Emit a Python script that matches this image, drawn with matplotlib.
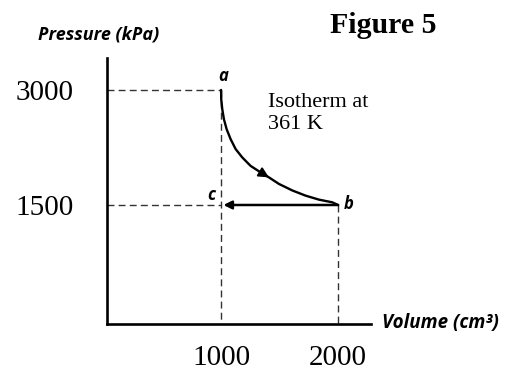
import matplotlib.pyplot as plt

## Data ##

# state points (Volume cm3, Pressure kPa)
point_names = ['a', 'b', 'c']
point_V = [1000, 2000, 1000]
point_P = [3000, 1500, 1500]

# isotherm a -> b
curve_V = [1000, 1001, 1010, 1024, 1047, 1081, 1124, 1181, 1252, 1338, 1409,
           1494, 1608, 1722, 1836, 1950, 2000]
curve_P = [3000, 2880, 2750, 2620, 2490, 2360, 2230, 2120, 2010, 1925, 1860,
           1775, 1690, 1622, 1570, 1535, 1500]

x_ticks = [1000, 2000]
y_ticks = [1500, 3000]

## Figure ##

fig = plt.figure(figsize=(5.08, 3.67), dpi=100)
ax = fig.add_axes([107/508, 43/367, 264/508, 266/367])
ax.set_xlim(25, 2281)
ax.set_ylim(-52, 3417)

for s in ['top', 'right']:
    ax.spines[s].set_visible(False)
for s in ['left', 'bottom']:
    ax.spines[s].set_linewidth(1.9)
    ax.spines[s].set_color('black')

serif = 'Liberation Serif'
sans = 'Open Sans'

ax.set_xticks(x_ticks)
ax.set_xticklabels([str(v) for v in x_ticks], fontname=serif, fontsize=21)
ax.set_yticks(y_ticks)
ax.set_yticklabels([str(v) for v in y_ticks], fontname=serif, fontsize=21)
ax.tick_params(axis='x', length=0, pad=15)
ax.tick_params(axis='y', length=0, pad=24)

# dashed guide lines
dash = dict(color='#333333', lw=1.0, linestyle=(0, (5, 3)))
Va, Vb, Vc = point_V
Pa, Pb, Pc = point_P
ax.plot([ax.get_xlim()[0], Va], [Pa, Pa], **dash)
ax.plot([ax.get_xlim()[0], Vc], [Pc, Pc], **dash)
ax.plot([Va, Va], [Pa, ax.get_ylim()[0]], **dash)
ax.plot([Vb, Vb], [Pb, ax.get_ylim()[0]], **dash)

# isotherm
ax.plot(curve_V, curve_P, color='black', lw=1.7, solid_capstyle='round',
        solid_joinstyle='round')
ax.annotate('', xy=(curve_V[10], curve_P[10]), xytext=(curve_V[9], curve_P[9]),
            arrowprops=dict(arrowstyle='-|>', color='black', lw=1.4,
                            mutation_scale=15, shrinkA=0, shrinkB=0))

# b -> c
ax.annotate('', xy=(Vc + 20, Pc), xytext=(Vb, Pb),
            arrowprops=dict(arrowstyle='-|>', color='black', lw=1.8,
                            mutation_scale=12, shrinkA=0, shrinkB=0))

# point labels
offsets = {'a': (1.5, 10), 'b': (7.5, 1), 'c': (-7, 7.5)}
for name, v, p in zip(point_names, point_V, point_P):
    ax.annotate(name, xy=(v, p), xytext=offsets[name], textcoords='offset points',
                ha='center', va='center', fontname=sans, fontweight='bold',
                style='italic', fontsize=12)

ax.text(1400, 2955, 'Isotherm at\n361 K', fontname=serif, fontsize=16,
        ha='left', va='top', linespacing=1.15)

# axis titles
fig.text(38/508, 1 - 40/367, 'Pressure (kPa)', fontname=sans, fontweight='bold',
         style='italic', fontsize=13, ha='left', va='baseline')
fig.text(382/508, 1 - 323/367, 'Volume (cm³)', fontname=sans, fontweight='bold',
         style='italic', fontsize=13.5, ha='left', va='center')
fig.text(330/508, 1 - 33/367, 'Figure 5', fontname=serif, fontweight='bold',
         fontsize=21.5, ha='left', va='baseline')

plt.savefig('out.png', dpi=100)
